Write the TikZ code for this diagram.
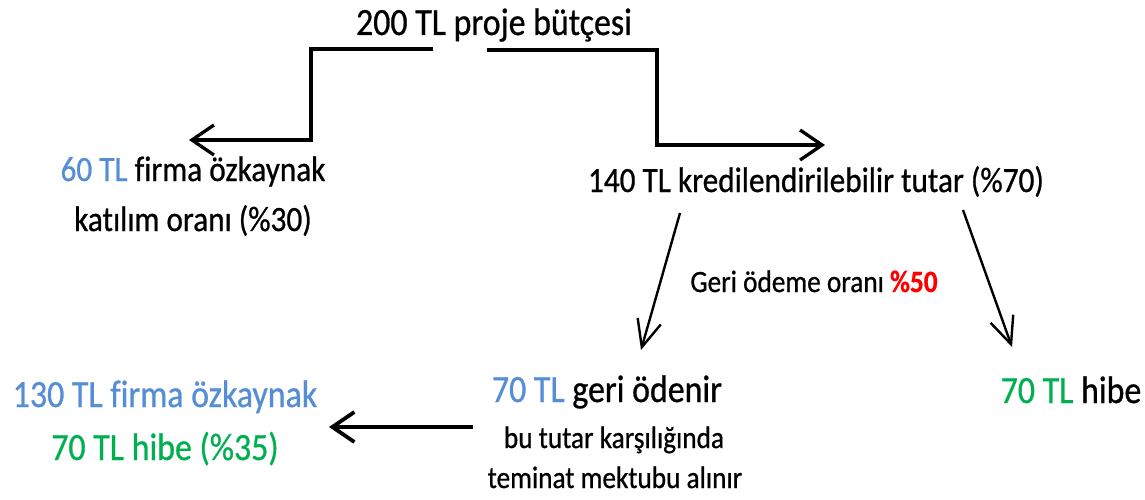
\documentclass[tikz,border=0pt]{standalone}
\usepackage{fontspec}
\setmainfont{Carlito}[FakeStretch=0.88,FakeBold=0.7,Ligatures=NoCommon]
\usetikzlibrary{arrows.meta}
\definecolor{tlmavi}{HTML}{558ED5}
\definecolor{tlyesil}{HTML}{00B050}
\definecolor{tlkirmizi}{HTML}{FF0000}

\begin{document}
\begin{tikzpicture}[x=1pt,y=-1pt,
    yazi/.style={inner sep=0pt,anchor=base},
    buyuk/.style={yazi,font=\fontsize{38.5}{46}\selectfont},
    orta/.style={yazi,font=\fontsize{35.5}{42}\selectfont},
    kucuk/.style={yazi,font=\fontsize{31}{37}\selectfont},
    kalinok/.style={line width=3.3pt,-{Straight Barb[length=22pt,width=30pt]}},
    inceok/.style={line width=2.4pt,-{Straight Barb[length=27pt,width=24pt]}}]
    \useasboundingbox (0,0) rectangle (1145,500);

    % bedeller (baseline, midden)
    \node[buyuk] (butce) at (494,35) {200 TL proje bütçesi};
    \node[orta] (ozkaynak1) at (193,181) {\textcolor{tlmavi}{60 TL} firma özkaynak};
    \node[orta] (ozkaynak2) at (193,231) {katılım oranı (\%30)};
    \node[orta] (kredi) at (816,192) {140 TL kredilendirilebilir tutar (\%70)};
    \node[kucuk] (oran) at (814,292) {Geri ödeme oranı \textbf{\textcolor{tlkirmizi}{\%50}}};
    \node[buyuk] (geriodeme) at (607,402) {\textcolor{tlmavi}{70 TL} geri ödenir};
    \node[kucuk] (teminat1) at (614,448) {bu tutar karşılığında};
    \node[kucuk] (teminat2) at (615,488) {teminat mektubu alınır};
    \node[buyuk] (hibe) at (1071,403) {\textcolor{tlyesil}{70 TL} hibe};
    \node[buyuk,tlmavi] (toplam1) at (165,407) {130 TL firma özkaynak};
    \node[buyuk,tlyesil] (toplam2) at (165,460) {70 TL hibe (\%35)};

    \coordinate (solbas) at (433,49);
    \coordinate (solok) at (189,140);
    \coordinate (sagbas) at (487,50);
    \coordinate (sagok) at (825,145);
    \coordinate (kredisol) at (680,213);
    \coordinate (kredisag) at (963,210);
    \coordinate (geriok) at (641,350);
    \coordinate (hibeok) at (1012,347);
    \coordinate (teminatbas) at (473,427);
    \coordinate (toplamok) at (329,427);

    \draw[kalinok] (solbas) -- (311,49) |- (solok);
    \draw[kalinok] (sagbas) -- (657,50) |- (sagok);
    \draw[inceok] (kredisol) -- (geriok);
    \draw[inceok] (kredisag) -- (hibeok);
    \draw[kalinok,line width=3.8pt] (teminatbas) -- (toplamok);
\end{tikzpicture}
\end{document}
